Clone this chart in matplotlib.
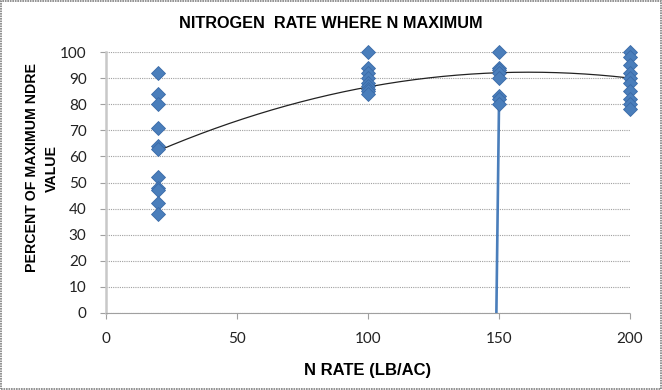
import numpy as np
import matplotlib.pyplot as plt

# N rate (lb/ac) and percent of maximum NDRE value
rate_20 = [92, 84, 80, 71, 64, 63, 52, 48, 47, 42, 38]
rate_100 = [100, 94, 92, 90, 88, 87, 86, 85, 84]
rate_150 = [100, 94, 93, 92, 90, 83, 82, 80]
rate_200 = [100, 98, 95, 92, 90, 88, 85, 82, 80, 78]

x_pts = [20] * len(rate_20) + [100] * len(rate_100) + [150] * len(rate_150) + [200] * len(rate_200)
y_pts = rate_20 + rate_100 + rate_150 + rate_200

# stray line series dropping to zero near 150
stray_x = [149, 150]
stray_y = [0, 80]

# polynomial trendline (order 2) as drawn in the chart
trend_coef = [-0.0015056, 0.4857, 53.09]
trend_range = [20, 200]

xticks = [0, 50, 100, 150, 200]
yticks = list(range(0, 101, 10))

blue = '#4a7ebb'

fig = plt.figure(figsize=(6.62, 3.9), dpi=100)
ax = fig.add_axes([106 / 662, 1 - 313 / 390, 524 / 662, 261 / 390])

xt = np.linspace(trend_range[0], trend_range[1], 200)
ax.plot(xt, np.polyval(trend_coef, xt), color='#222222', lw=0.9, zorder=3)

ax.plot(stray_x, stray_y, color=blue, lw=1.9, zorder=2)
ax.plot(x_pts, y_pts, 'D', ms=7, color=blue, mec='#3a6aa8', mew=0.6, zorder=4, clip_on=False)

ax.set_xlim(0, 200)
ax.set_ylim(0, 100)
ax.set_xticks(xticks)
ax.set_yticks(yticks)
ax.grid(axis='y', color='#a0a0a0', ls=(0, (1, 1)), lw=0.8)
ax.set_axisbelow(True)

for s in ['top', 'right']:
    ax.spines[s].set_visible(False)
ax.spines['left'].set_color('#c8c8c8')
ax.spines['left'].set_linewidth(1.8)
ax.spines['bottom'].set_color('#a0a0a0')
ax.spines['bottom'].set_linestyle((0, (1, 1)))
ax.spines['bottom'].set_linewidth(0.8)
ax.tick_params(axis='both', length=4, color='#a0a0a0', labelsize=11, labelcolor='#222222')
ax.tick_params(axis='x', pad=10)
ax.tick_params(axis='y', pad=10)
for lab in ax.get_xticklabels() + ax.get_yticklabels():
    lab.set_family('Lato')

ax.set_xlabel('N RATE (LB/AC)', fontsize=12, fontweight='bold', family='Liberation Sans', labelpad=12)
fig.text(42 / 662, 1 - 168 / 390, 'PERCENT OF MAXIMUM NDRE\nVALUE', rotation=90, ha='center', va='center',
         fontsize=10.2, fontweight='bold', family='Liberation Sans', linespacing=1.5, multialignment='center')
fig.text(0.5, 1 - 24 / 390, 'NITROGEN  RATE WHERE N MAXIMUM', ha='center', va='center',
         fontsize=11.7, fontweight='bold', family='Liberation Sans')

# outer border
fig.patches.append(plt.Rectangle((0.002, 0.003), 0.996, 0.994, transform=fig.transFigure,
                                 fill=False, ec='#808080', lw=1.2, ls=(0, (1, 0.5))))

fig.savefig('out.png', dpi=100)
